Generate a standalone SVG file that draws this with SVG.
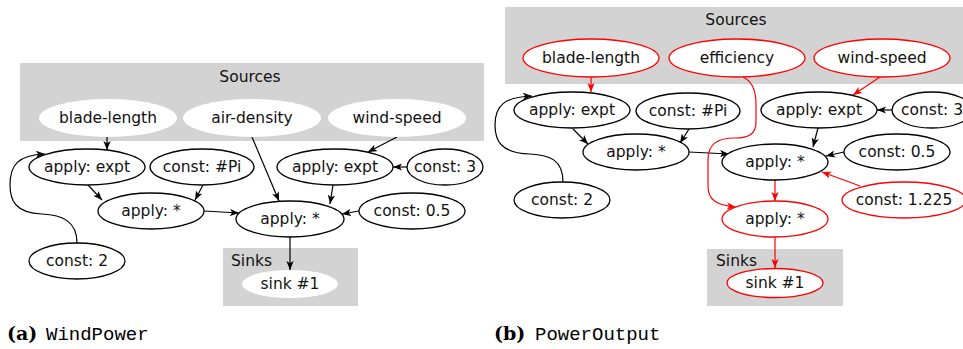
<svg xmlns="http://www.w3.org/2000/svg" width="963" height="349" viewBox="0 0 963 349">
<defs>
<marker id="ab" viewBox="0 0 10 8" markerWidth="9" markerHeight="7.5" refX="10" refY="4" orient="auto" markerUnits="userSpaceOnUse"><path d="M0,0 L10,4 L0,8 L2.5,4 z" fill="#000"/></marker>
<marker id="ar" viewBox="0 0 10 8" markerWidth="9" markerHeight="7.5" refX="10" refY="4" orient="auto" markerUnits="userSpaceOnUse"><path d="M0,0 L10,4 L0,8 L2.5,4 z" fill="#f00"/></marker>
</defs>
<style>
.box{fill:#d3d3d3;stroke:none}
.n{fill:#fff;stroke:#000;stroke-width:1.3}
.s{fill:#fff;stroke:none}
.r{fill:#fff;stroke:#f00;stroke-width:1.3}
text{font-family:"DejaVu Sans",Verdana,sans-serif;font-size:15.5px;fill:#111}
.c{text-anchor:middle;dominant-baseline:central}
.e{fill:none;stroke:#000;stroke-width:1.2;marker-end:url(#ab)}
.er{fill:none;stroke:#f00;stroke-width:1.2;marker-end:url(#ar)}
.cap{font-family:"DejaVu Serif",serif;font-weight:bold;font-size:19px;fill:#000}
.mono{font-family:"Liberation Mono",monospace;font-size:19px;fill:#000}
</style>

<!-- (a) WindPower -->
<g id="a-clusters">
<rect class="box" x="20" y="63" width="464" height="78"/>
<text class="c" x="250" y="77">Sources</text>
<rect class="box" x="223" y="248" width="135" height="58"/>
<text x="231" y="266">Sinks</text>
</g>
<g id="a-connectors">
<path class="e" d="M107,137 L107,150"/>
<path class="e" d="M77,243 C77,221 62,215 42,214 C15,213 10,200 10,185 C10,165 18,155 45,154"/>
<path class="e" d="M88,185 L102,200"/>
<path class="e" d="M203,185 L195,200"/>
<path class="e" d="M204,211 L239,213"/>
<path class="e" d="M252,137 L279,201"/>
<path class="e" d="M397,137 L368,152"/>
<path class="e" d="M407,167 L393,167"/>
<path class="e" d="M333,185 L330,204"/>
<path class="e" d="M359,211 L342,214"/>
<path class="e" d="M290,237 L290,270"/>
</g>
<g id="a-blade-length"><ellipse class="s" cx="108" cy="118" rx="69" ry="19"/><text class="c" x="108" y="118">blade-length</text></g>
<g id="a-air-density"><ellipse class="s" cx="252" cy="118" rx="69" ry="19"/><text class="c" x="252" y="118">air-density</text></g>
<g id="a-wind-speed"><ellipse class="s" cx="397" cy="118" rx="69" ry="19"/><text class="c" x="397" y="118">wind-speed</text></g>
<g id="a-expt1"><ellipse class="n" cx="87" cy="167" rx="58" ry="18"/><text class="c" x="87" y="167">apply: expt</text></g>
<g id="a-pi"><ellipse class="n" cx="202" cy="167" rx="52" ry="18"/><text class="c" x="202" y="167">const: #Pi</text></g>
<g id="a-expt2"><ellipse class="n" cx="335" cy="167" rx="58" ry="18"/><text class="c" x="335" y="167">apply: expt</text></g>
<g id="a-c3"><ellipse class="n" cx="445" cy="167" rx="38" ry="18"/><text class="c" x="445" y="167">const: 3</text></g>
<g id="a-mul1"><ellipse class="n" cx="151" cy="211" rx="53" ry="18"/><text class="c" x="151" y="211">apply: *</text></g>
<g id="a-mul2"><ellipse class="n" cx="290" cy="219" rx="54" ry="18"/><text class="c" x="290" y="219">apply: *</text></g>
<g id="a-c05"><ellipse class="n" cx="412" cy="211" rx="53" ry="18"/><text class="c" x="412" y="211">const: 0.5</text></g>
<g id="a-c2"><ellipse class="n" cx="77" cy="261" rx="48" ry="18"/><text class="c" x="77" y="261">const: 2</text></g>
<g id="a-sink"><ellipse class="s" cx="290" cy="284" rx="48" ry="14"/><text class="c" x="290" y="284">sink #1</text></g>
<g id="a-caption"><text class="cap" x="7" y="340">(a)</text><text class="mono" x="46" y="340">WindPower</text></g>

<!-- (b) PowerOutput -->
<g id="b-clusters">
<rect class="box" x="505" y="7" width="458" height="77"/>
<text class="c" x="736" y="20">Sources</text>
<rect class="box" x="707" y="249" width="136" height="57"/>
<text x="716" y="266">Sinks</text>
</g>
<g id="b-connectors">
<path class="er" d="M591,77 L591,92"/>
<path class="e" d="M563,182 C563,160 550,155 530,154 C500,153 495,140 495,125 C495,105 505,97 532,96"/>
<path class="e" d="M573,129 L588,144"/>
<path class="e" d="M689,129 L680,143"/>
<path class="e" d="M689,152 L729,154"/>
<path class="er" d="M743,77 C754,82 756,94 756,104 L756,122 C756,134 749,138 735,138 C716,138 708,145 708,160 L708,186 C708,200 716,205 736,207"/>
<path class="er" d="M880,77 L853,95"/>
<path class="e" d="M892,110 L877,110"/>
<path class="e" d="M818,128 L813,147"/>
<path class="e" d="M844,152 L826,156"/>
<path class="er" d="M860,186 L822,172"/>
<path class="er" d="M775,180 L775,201"/>
<path class="er" d="M775,237 L775,268"/>
</g>
<g id="b-blade-length"><ellipse class="r" cx="591" cy="58" rx="68" ry="19"/><text class="c" x="591" y="58">blade-length</text></g>
<g id="b-efficiency"><ellipse class="r" cx="737" cy="58" rx="68" ry="19"/><text class="c" x="737" y="58">efficiency</text></g>
<g id="b-wind-speed"><ellipse class="r" cx="882" cy="58" rx="68" ry="19"/><text class="c" x="882" y="58">wind-speed</text></g>
<g id="b-expt1"><ellipse class="n" cx="572" cy="110" rx="58" ry="18"/><text class="c" x="572" y="110">apply: expt</text></g>
<g id="b-pi"><ellipse class="n" cx="688" cy="111" rx="52" ry="18"/><text class="c" x="688" y="111">const: #Pi</text></g>
<g id="b-expt2"><ellipse class="n" cx="819" cy="110" rx="58" ry="18"/><text class="c" x="819" y="110">apply: expt</text></g>
<g id="b-c3"><ellipse class="n" cx="932" cy="110" rx="40" ry="18"/><text class="c" x="932" y="110">const: 3</text></g>
<g id="b-mul1"><ellipse class="n" cx="636" cy="152" rx="53" ry="18"/><text class="c" x="636" y="152">apply: *</text></g>
<g id="b-mul2"><ellipse class="n" cx="775" cy="162" rx="53" ry="18"/><text class="c" x="775" y="162">apply: *</text></g>
<g id="b-c05"><ellipse class="n" cx="897" cy="152" rx="53" ry="18"/><text class="c" x="897" y="152">const: 0.5</text></g>
<g id="b-c2"><ellipse class="n" cx="562" cy="200" rx="48" ry="18"/><text class="c" x="562" y="200">const: 2</text></g>
<g id="b-c1225"><ellipse class="r" cx="904" cy="200" rx="62" ry="18"/><text class="c" x="904" y="200">const: 1.225</text></g>
<g id="b-mul3"><ellipse class="r" cx="775" cy="219" rx="53" ry="18"/><text class="c" x="775" y="219">apply: *</text></g>
<g id="b-sink"><ellipse class="r" cx="775" cy="283" rx="48" ry="14.5"/><text class="c" x="775" y="283">sink #1</text></g>
<g id="b-caption"><text class="cap" x="494" y="340">(b)</text><text class="mono" x="535" y="340">PowerOutput</text></g>
</svg>
